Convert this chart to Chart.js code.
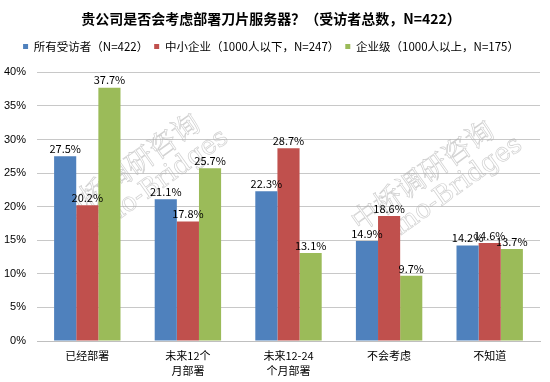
<!DOCTYPE html>
<html><head><meta charset="utf-8">
<script src="https://cdn.jsdelivr.net/npm/chart.js@4/dist/chart.umd.min.js"></script>
<style>html,body{margin:0;padding:0;background:#fff}#w{width:550px;height:382px}</style>
</head><body><div id="w"><canvas id="c" width="550" height="382"></canvas></div>
<script>
const categories = [["已经部署"], ["未来12个", "月部署"], ["未来12-24", "个月部署"], ["不会考虑"], ["不知道"]];
const seriesNames = ["所有受访者（N=422）", "中小企业（1000人以下，N=247）", "企业级（1000人以上，N=175）"];
const allRespondents = [27.5, 21.1, 22.3, 14.9, 14.2];
const smb = [20.2, 17.8, 28.7, 18.6, 14.6];
const enterprise = [37.7, 25.7, 13.1, 9.7, 13.7];
const yTicks = [0, 5, 10, 15, 20, 25, 30, 35, 40];
const titleText = "贵公司是否会考虑部署刀片服务器？（受访者总数，N=422）";
const watermark = ["中桥调研咨询", "Sino-Bridges"];

const FONT = "'Liberation Sans Narrow', 'Noto Sans CJK SC', sans-serif";
const CJK = "'Noto Sans CJK SC', 'Liberation Sans', sans-serif";

const labelPlugin = {
  id: 'vlabels',
  afterDatasetsDraw(chart) {
    const ctx = chart.ctx;
    ctx.save();
    ctx.font = "11px " + CJK;
    ctx.fillStyle = "#000";
    ctx.textAlign = "center";
    ctx.textBaseline = "bottom";
    chart.data.datasets.forEach((ds, i) => {
      chart.getDatasetMeta(i).data.forEach((bar, j) => {
        ctx.fillText(ds.data[j].toFixed(1) + "%", bar.x, bar.y - 2);
      });
    });
    ctx.restore();
  }
};
const wmPlugin = {
  id: 'wm',
  beforeDatasetsDraw(chart) {
    const ctx = chart.ctx;
    ctx.save();
    ctx.strokeStyle = "rgba(170,170,170,0.55)";
    ctx.lineWidth = 0.7;
    const spots = [[128, 168], [422, 175]];
    spots.forEach(([x, y]) => {
      ctx.save();
      ctx.translate(x, y);
      ctx.rotate(-0.62);
      ctx.textAlign = "center";
      ctx.textBaseline = "middle";
      ctx.font = "28px 'Noto Serif CJK SC', 'DejaVu Serif', serif";
      ctx.strokeText(watermark[0], 0, 0);
      ctx.font = "26px 'DejaVu Serif', serif";
      ctx.strokeText(watermark[1], 14, 30);
      ctx.restore();
    });
    ctx.restore();
  }
};
const legendGap = {
  id: 'legendGap',
  beforeInit(chart) {
    const orig = chart.legend.fit;
    chart.legend.fit = function () { orig.bind(chart.legend)(); this.height += 10; };
  }
};

new Chart(document.getElementById('c'), {
  type: 'bar',
  data: {
    labels: categories,
    datasets: [
      { label: seriesNames[0], data: allRespondents, backgroundColor: '#4F81BD' },
      { label: seriesNames[1], data: smb, backgroundColor: '#C0504D' },
      { label: seriesNames[2], data: enterprise, backgroundColor: '#9BBB59' }
    ]
  },
  options: {
    responsive: false,
    animation: false,
    devicePixelRatio: 1,
    layout: { padding: { left: 2, right: 10, top: 6, bottom: 2 } },
    datasets: { bar: { barPercentage: 1, categoryPercentage: 0.66 } },
    plugins: {
      title: { display: true, text: titleText, color: '#000', font: { family: CJK, size: 14, weight: 'bold' }, padding: { top: 4, bottom: 8 } },
      legend: { display: true, labels: { color: '#000', boxWidth: 5, boxHeight: 5, padding: 6, font: { family: FONT, size: 11.5 } } },
      tooltip: { enabled: false }
    },
    scales: {
      x: {
        afterFit(scale) { scale.height = 39; },
        grid: { display: false, drawTicks: false },
        border: { display: true, color: '#bfbfbf' },
        ticks: { color: '#000', padding: 8, font: { family: CJK, size: 11, lineHeight: 1.3 }, maxRotation: 0, autoSkip: false }
      },
      y: {
        min: 0, max: 40,
        afterFit(scale) { scale.width = 35; },
        afterBuildTicks(scale) { scale.ticks = yTicks.map(v => ({ value: v })); },
        grid: { color: '#c8c8c8', drawTicks: false },
        border: { display: false },
        ticks: { color: '#000', padding: 11, font: { family: 'Liberation Sans, sans-serif', size: 11 }, callback: v => v + '%' }
      }
    }
  },
  plugins: [legendGap, wmPlugin, labelPlugin]
});
</script></body></html>
